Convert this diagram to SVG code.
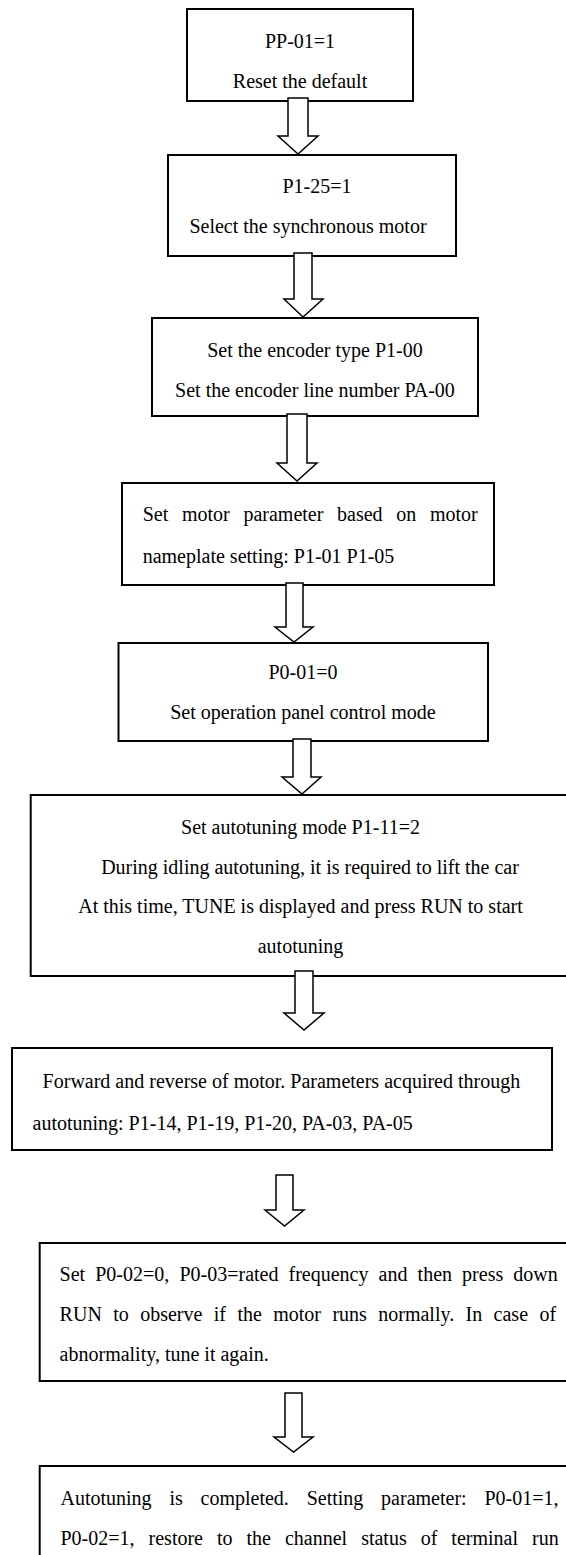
<svg xmlns="http://www.w3.org/2000/svg" width="566" height="1555" viewBox="0 0 566 1555">
<style>
.box{fill:#fff;stroke:#000;stroke-width:2}
.arrow{fill:#fff;stroke:#000;stroke-width:1.5;stroke-linejoin:miter}
.t{font-family:"Liberation Serif","Times New Roman",serif;font-size:20px;fill:#000}
.c{text-anchor:middle}
</style>
<rect width="566" height="1555" fill="#fff"/>
<g id="n1"><rect class="box" x="187" y="9" width="226" height="92"/>
<text class="t c" x="300" y="48">PP-01=1</text>
<text class="t c" x="300" y="88">Reset the default</text></g>
<g id="n2"><rect class="box" x="168" y="155" width="288" height="101"/>
<text class="t c" x="317" y="193">P1-25=1</text>
<text class="t c" x="308" y="233">Select the synchronous motor</text></g>
<g id="n3"><rect class="box" x="152" y="318" width="326" height="98"/>
<text class="t c" x="315" y="357">Set the encoder type P1-00</text>
<text class="t c" x="315" y="397">Set the encoder line number PA-00</text></g>
<g id="n4"><rect class="box" x="122" y="483" width="372" height="102"/>
<text class="t" x="142.7" y="521" word-spacing="8.7">Set motor parameter based on motor</text>
<text class="t" x="142.7" y="563">nameplate setting: P1-01 P1-05</text></g>
<g id="n5"><rect class="box" x="118.5" y="643" width="369.5" height="98"/>
<text class="t c" x="303" y="679">P0-01=0</text>
<text class="t c" x="303" y="719">Set operation panel control mode</text></g>
<g id="n6"><rect class="box" x="30.7" y="795" width="540" height="181"/>
<text class="t c" x="300.5" y="834">Set autotuning mode P1-11=2</text>
<text class="t c" x="310" y="874">During idling autotuning, it is required to lift the car</text>
<text class="t c" x="300.5" y="913">At this time, TUNE is displayed and press RUN to start</text>
<text class="t c" x="300.5" y="953">autotuning</text></g>
<g id="n7"><rect class="box" x="12" y="1048" width="540" height="102"/>
<text class="t" x="42.6" y="1088">Forward and reverse of motor. Parameters acquired through</text>
<text class="t" x="32.5" y="1130">autotuning: P1-14, P1-19, P1-20, PA-03, PA-05</text></g>
<g id="n8"><rect class="box" x="39.7" y="1243" width="531" height="138"/>
<text class="t" x="59.6" y="1281" word-spacing="5.1">Set P0-02=0, P0-03=rated frequency and then press down</text>
<text class="t" x="59.6" y="1321" word-spacing="6.4">RUN to observe if the motor runs normally. In case of</text>
<text class="t" x="59.6" y="1361">abnormality, tune it again.</text></g>
<g id="n9"><rect class="box" x="39.7" y="1466" width="531" height="100"/>
<text class="t" x="60.5" y="1505" word-spacing="12.8">Autotuning is completed. Setting parameter: P0-01=1,</text>
<text class="t" x="60.5" y="1545" word-spacing="9">P0-02=1, restore to the channel status of terminal run</text></g>
<g id="connectors">
<polygon class="arrow" points="288,98 308,98 308,136 318,136 298,154 278,136 288,136"/>
<polygon class="arrow" points="294,253 312,253 312,299 323,299 303,317 284,299 294,299"/>
<polygon class="arrow" points="287,414 307,414 307,463 317,463 297,481 277,463 287,463"/>
<polygon class="arrow" points="286,583 303,583 303,627 313,627 294,642 275,627 286,627"/>
<polygon class="arrow" points="293,739 311,739 311,777 321,777 302,794 282,777 293,777"/>
<polygon class="arrow" points="295,971 313,971 313,1013 324,1013 304,1030 284,1013 295,1013"/>
<polygon class="arrow" points="276,1175 293,1175 293,1210 304,1210 284.5,1226 265,1210 276,1210"/>
<polygon class="arrow" points="285,1393 302,1393 302,1437 313,1437 293.5,1452 274,1437 285,1437"/>
</g>
</svg>
